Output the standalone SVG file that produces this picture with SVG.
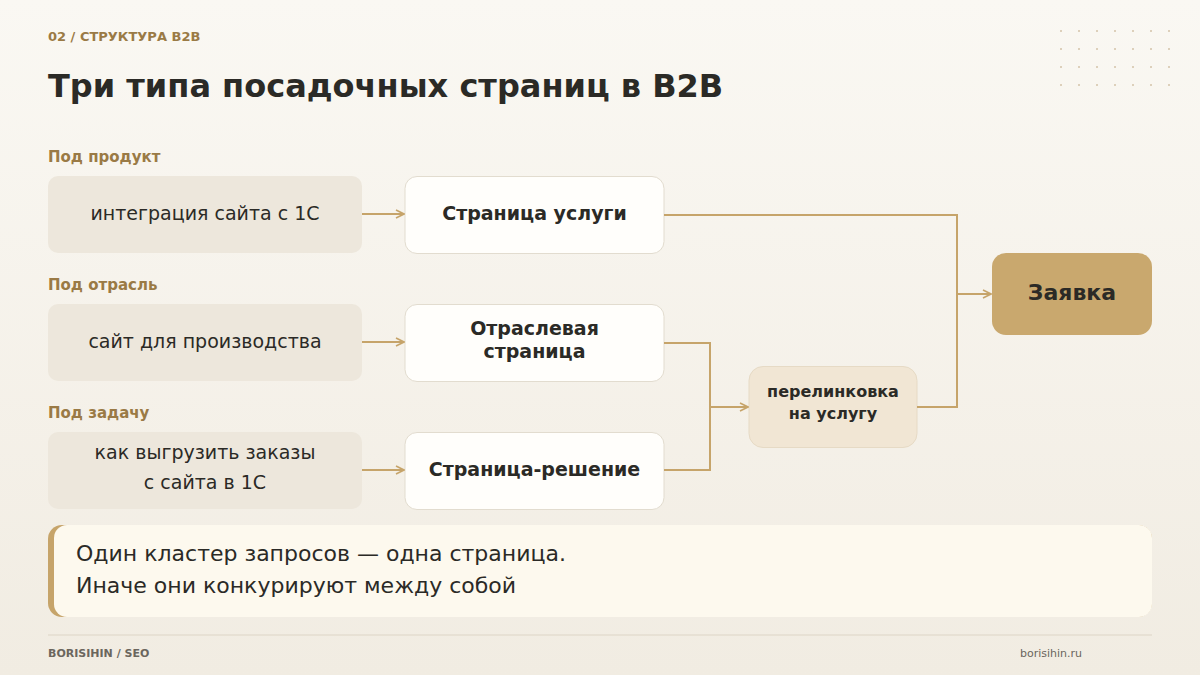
<svg xmlns="http://www.w3.org/2000/svg" width="1200" height="675" viewBox="0 0 1200 675">
<defs>
<linearGradient id="bg" x1="0" y1="0" x2="0" y2="1"><stop offset="0" stop-color="#faf8f3"/><stop offset="1" stop-color="#f1ece2"/></linearGradient>
<marker id="ar" viewBox="0 0 10 10" refX="9" refY="5" markerWidth="10" markerHeight="10" markerUnits="userSpaceOnUse" orient="auto"><path d="M1 1 L9 5 L1 9" fill="none" stroke="#c6a46a" stroke-width="1.6"/></marker>
<pattern id="dots" x="1060" y="30" width="18" height="18" patternUnits="userSpaceOnUse"><rect x="0" y="0" width="2" height="2" fill="#ddd0bb"/></pattern>
</defs>
<style>
text{font-family:"DejaVu Sans","Noto Sans",sans-serif}
.lbl{font-size:15px;font-weight:bold;fill:#9a7a45}
.src{fill:#ede7dc}
.q{font-size:19px;fill:#2b2a26}
.mid{fill:#fffefb;stroke:#e2dccf;stroke-width:1}
.mt{font-size:19px;font-weight:bold;fill:#2b2a26}
.c{fill:none;stroke:#c6a46a;stroke-width:2}
</style>
<rect width="1200" height="675" fill="url(#bg)"/>
<rect x="1060" y="30" width="112" height="58" fill="url(#dots)"/>
<text x="48" y="41" font-size="13" font-weight="bold" fill="#9a7a45">02 / СТРУКТУРА B2B</text>
<text x="48" y="97" font-size="32" font-weight="bold" fill="#2b2a26">Три типа посадочных страниц в B2B</text>
<text class="lbl" x="48" y="162">Под продукт</text>
<text class="lbl" x="48" y="290">Под отрасль</text>
<text class="lbl" x="48" y="418">Под задачу</text>
<g id="src1"><rect class="src" x="48" y="176" width="314" height="77" rx="10"/><text class="q" x="205" y="220" text-anchor="middle">интеграция сайта с 1С</text></g>
<g id="src2"><rect class="src" x="48" y="304" width="314" height="77" rx="10"/><text class="q" x="205" y="348" text-anchor="middle">сайт для производства</text></g>
<g id="src3"><rect class="src" x="48" y="432" width="314" height="77" rx="10"/><text class="q" x="205" y="459" text-anchor="middle">как выгрузить заказы</text><text class="q" x="205" y="489" text-anchor="middle">с сайта в 1С</text></g>
<g id="mid1"><rect class="mid" x="405" y="176.5" width="259" height="77" rx="12"/><text class="mt" x="534.5" y="220" text-anchor="middle">Страница услуги</text></g>
<g id="mid2"><rect class="mid" x="405" y="304.5" width="259" height="77" rx="12"/><text class="mt" x="534.5" y="335" text-anchor="middle">Отраслевая</text><text class="mt" x="534.5" y="358" text-anchor="middle">страница</text></g>
<g id="mid3"><rect class="mid" x="405" y="432.5" width="259" height="77" rx="12"/><text class="mt" x="534.5" y="476" text-anchor="middle">Страница-решение</text></g>
<g id="link"><rect x="749" y="366.5" width="168" height="81" rx="14" fill="#f1e6d4" stroke="#e6dac5"/><text x="833" y="397" font-size="16" font-weight="bold" fill="#2b2a26" text-anchor="middle">перелинковка</text><text x="833" y="419" font-size="16" font-weight="bold" fill="#2b2a26" text-anchor="middle">на услугу</text></g>
<g id="lead"><rect x="992" y="253" width="160" height="82" rx="14" fill="#c9a86e"/><text x="1072" y="300" font-size="22" font-weight="bold" fill="#2b2a26" text-anchor="middle">Заявка</text></g>
<g id="connectors">
<path class="c" d="M362 214 H404" marker-end="url(#ar)"/>
<path class="c" d="M362 342 H404" marker-end="url(#ar)"/>
<path class="c" d="M362 470 H404" marker-end="url(#ar)"/>
<path class="c" d="M664 215 H957 V294 H991" marker-end="url(#ar)"/>
<path class="c" d="M917 407 H957 V294"/>
<path class="c" d="M664 343 H710 V470 H664"/>
<path class="c" d="M710 407 H748" marker-end="url(#ar)"/>
</g>
<g id="note">
<rect x="48" y="525" width="1104" height="92" rx="14" fill="#c6a46a"/>
<rect x="54" y="525" width="1098" height="92" rx="13" fill="#fdf9ee"/>
<text x="76" y="561" font-size="22" fill="#2b2a26">Один кластер запросов — одна страница.</text>
<text x="76" y="593" font-size="22" fill="#2b2a26">Иначе они конкурируют между собой</text>
</g>
<line x1="48" y1="635" x2="1152" y2="635" stroke="#ddd5c6" stroke-width="1"/>
<text x="48" y="657" font-size="11" font-weight="bold" fill="#6b665d">BORISIHIN / SEO</text>
<text x="1082" y="657" font-size="11" fill="#6b665d" text-anchor="end">borisihin.ru</text>
</svg>
